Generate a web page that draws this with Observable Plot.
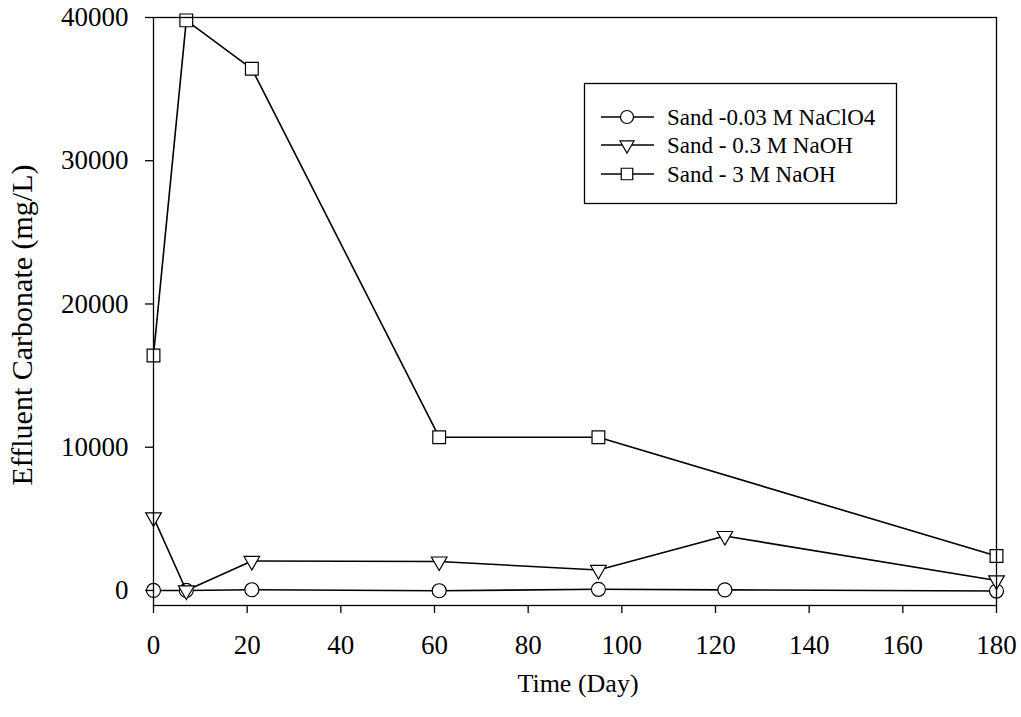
<!DOCTYPE html>
<html>
<head>
<meta charset="utf-8">
<script src="https://cdn.jsdelivr.net/npm/d3@7"></script>
<script src="https://cdn.jsdelivr.net/npm/@observablehq/plot@0.6"></script>
<style>
  html, body { margin: 0; padding: 0; background: white; }
  #chart { position: relative; width: 1021px; height: 717px; }
</style>
</head>
<body>
<div id="chart"></div>
<script>
// ---- data ----
const seriesNames = ["Sand -0.03 M NaClO4", "Sand - 0.3 M NaOH", "Sand - 3 M NaOH"];
const daysA = [0, 7, 21, 61, 95, 122, 180];
const naclo4 = [0, 0, 50, -20, 80, 40, -40];
const daysB = [0, 7, 21, 61, 95, 122, 180];
const naoh03 = [5100, 0, 2060, 2020, 1430, 3800, 700];
const daysC = [0, 7, 21, 61, 95, 180];
const naoh3 = [16400, 39800, 36420, 10700, 10700, 2400];
const xTicks = [0, 20, 40, 60, 80, 100, 120, 140, 160, 180];
const yTicks = [0, 10000, 20000, 30000, 40000];
const xTitle = "Time (Day)";
const yTitle = "Effluent Carbonate (mg/L)";

const toRows = (days, vals) => days.map((d, i) => ({day: d, value: vals[i]}));
const A = toRows(daysA, naclo4);
const B = toRows(daysB, naoh03);
const C = toRows(daysC, naoh3);

const font = "'Liberation Serif', 'Times New Roman', serif";
const lineOpts = {x: "day", y: "value", stroke: "black", strokeWidth: 1.6};

const svg = Plot.plot({
  width: 1021,
  height: 717,
  marginLeft: 153,
  marginRight: 25,
  marginTop: 17,
  marginBottom: 112,
  style: {fontFamily: font, fontSize: "27px", color: "black", background: "white", overflow: "visible"},
  x: {domain: [0, 180]},
  y: {domain: [-1050, 40000]},
  marks: [
    Plot.line(A, lineOpts),
    Plot.dot(A, {x: "day", y: "value", symbol: "circle", r: 7, fill: "white", stroke: "black", strokeWidth: 1.2}),
    Plot.line(B, lineOpts),
    Plot.dot(B, {x: "day", y: "value", symbol: "triangle", rotate: 180, r: 5.8, fill: "white", stroke: "black", strokeWidth: 1.2}),
    Plot.line(C, lineOpts),
    Plot.dot(C, {x: "day", y: "value", symbol: "square", r: 7.2, fill: "white", stroke: "black", strokeWidth: 1.2}),
    Plot.frame({stroke: "black", strokeWidth: 1.3}),
    Plot.axisX({ticks: xTicks, tickSize: 8, tickPadding: 21, label: null, tickFormat: d => String(d), strokeWidth: 1.3}),
    Plot.axisY({ticks: yTicks, tickSize: 8, tickPadding: 17, label: null, tickFormat: d => String(d), strokeWidth: 1.3})
  ]
});

const s = d3.select(svg);
// axis titles
s.append("text")
  .attr("x", 578).attr("y", 692)
  .attr("text-anchor", "middle")
  .style("font-family", font).style("font-size", "26px").attr("fill", "black")
  .text(xTitle);
s.append("text")
  .attr("transform", "translate(32,325) rotate(-90)")
  .attr("text-anchor", "middle")
  .style("font-family", font).style("font-size", "30px").attr("fill", "black")
  .text(yTitle);

// legend
const lg = s.append("g");
lg.append("rect").attr("x", 584.5).attr("y", 83.5).attr("width", 312).attr("height", 120)
  .attr("fill", "white").attr("stroke", "black").attr("stroke-width", 1.3);
const rowsY = [117, 145, 174];
const syms = [d3.symbolCircle, d3.symbolTriangle, d3.symbolSquare];
const symSize = [Math.PI * 6.5 * 6.5, Math.PI * 5.2 * 5.2, Math.PI * 6.5 * 6.5];
seriesNames.forEach((name, i) => {
  const y = rowsY[i];
  lg.append("line").attr("x1", 601).attr("x2", 654).attr("y1", y).attr("y2", y)
    .attr("stroke", "black").attr("stroke-width", 1.6);
  lg.append("path").attr("d", d3.symbol(syms[i], symSize[i])())
    .attr("transform", `translate(627,${y})` + (i === 1 ? " rotate(180)" : ""))
    .attr("fill", "white").attr("stroke", "black").attr("stroke-width", 1.2);
  lg.append("text").attr("x", 667).attr("y", y).attr("dy", "0.35em")
    .attr("text-anchor", "start")
    .style("font-family", font).style("font-size", "23px").attr("fill", "black")
    .text(name);
});

document.getElementById("chart").appendChild(svg);
</script>
</body>
</html>
